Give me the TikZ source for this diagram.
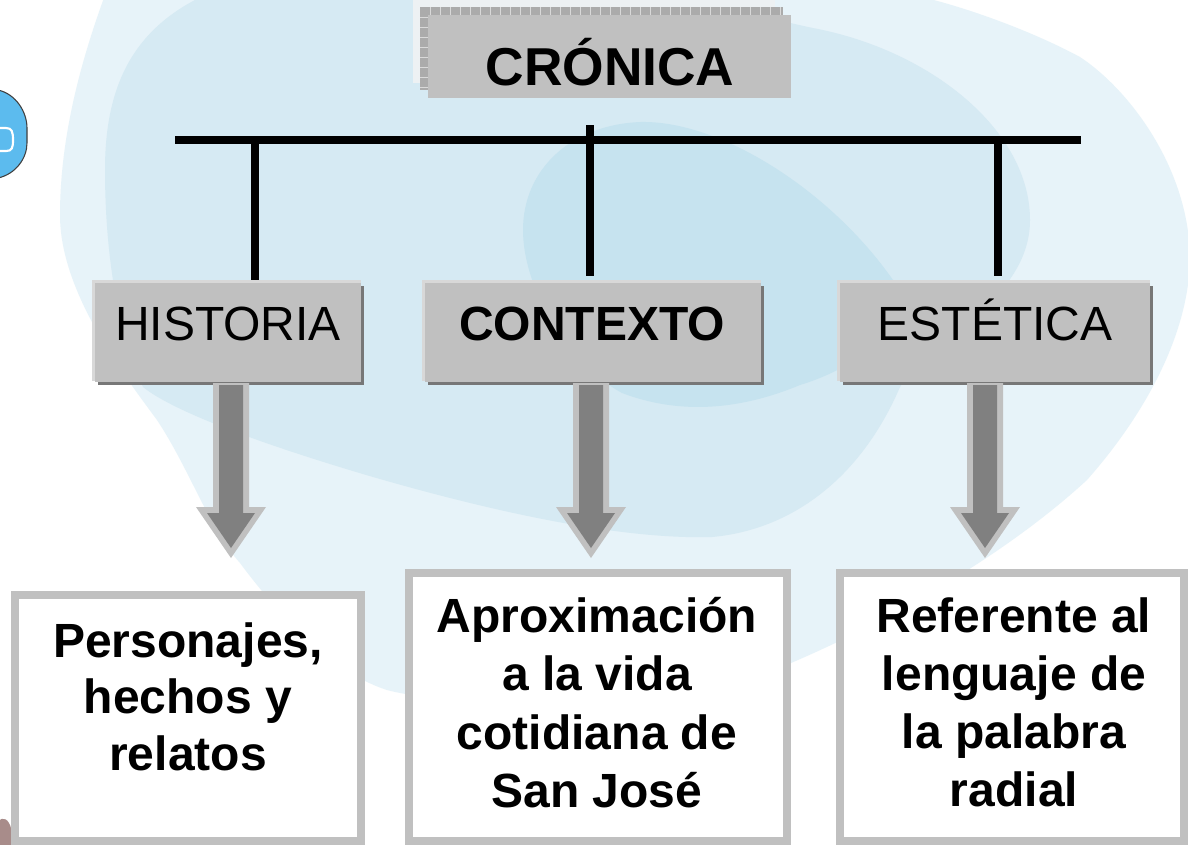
\documentclass[tikz,border=0pt]{standalone}
\usepackage{fontspec}
\setmainfont{Liberation Sans}
\definecolor{blobA}{HTML}{E7F3F9}
\definecolor{blobB}{HTML}{D6EAF3}
\definecolor{blobC}{HTML}{C6E3EF}
\definecolor{boxgrey}{HTML}{C0C0C0}
\definecolor{boxlight}{HTML}{D8D8D8}
\definecolor{boxdark}{HTML}{777777}
\definecolor{arrowgrey}{HTML}{808080}
\definecolor{haze}{HTML}{EDF1F3}
\definecolor{hatch}{HTML}{ABABAB}
\definecolor{buttonblue}{HTML}{5CBBEE}
\definecolor{smudge}{HTML}{A88C8A}
\tikzset{
  x=0.75pt,y=-0.75pt,
  resultframe/.style={draw=boxgrey,line width=6pt,fill=white},
  bar/.style={line width=6pt,draw=black},
  headtext/.style={font=\fontsize{36}{40}\selectfont,inner sep=0pt,anchor=base},
  boldhead/.style={headtext,font=\fontsize{36}{40}\selectfont\bfseries},
  resulttext/.style={font=\fontsize{36}{43.7}\selectfont\bfseries,align=center,inner sep=0pt,anchor=north},
}
\newcommand{\headpanel}[4]{% x0, y0, x1, y1
  \fill[boxlight] (#1,#2) rectangle (#3-3,#4-4);
  \fill[boxdark] (#1+6,#2+6) rectangle (#3,#4);
  \fill[boxgrey] (#1+3,#2+3) rectangle (#3-3,#4-3);
}
\newcommand{\fatarrow}[1]{% centre x
  \fill[boxgrey] (#1-18,383) -- (#1+18,383) -- (#1+18,507) -- (#1+35,507) -- (#1,558) -- (#1-35,507) -- (#1-18,507) -- cycle;
  \fill[arrowgrey] (#1-12,385) -- (#1+12,385) -- (#1+12,513) -- (#1+24,513) -- (#1,548) -- (#1-24,513) -- (#1-12,513) -- cycle;
}
\begin{document}
\begin{tikzpicture}
\useasboundingbox (0,0) rectangle (1188,844);
\fill[white] (0,0) rectangle (1188,844);
\begin{scope}
\clip (0,0) rectangle (1188,844);
% background blobs
\fill[blobA] (105,-5) .. controls (85,50) and (60,130) .. (60,215)
  .. controls (60,290) and (120,370) .. (157,420)
  .. controls (190,470) and (210,530) .. (240,563)
  .. controls (290,630) and (340,675) .. (387,690)
  .. controls (470,712) and (680,700) .. (791,663)
  .. controls (880,625) and (1000,560) .. (1087,480)
  .. controls (1140,420) and (1188,340) .. (1190,260)
  .. controls (1190,170) and (1130,90) .. (1080,57)
  .. controls (1030,30) and (960,5) .. (913,-5) -- cycle;
\fill[blobB] (205,-5) .. controls (130,30) and (105,90) .. (105,170)
  .. controls (105,260) and (120,340) .. (143,387)
  .. controls (165,405) and (230,435) .. (373,477)
  .. controls (470,505) and (610,540) .. (712,537)
  .. controls (790,530) and (860,480) .. (900,387)
  .. controls (930,340) and (1030,300) .. (1030,220)
  .. controls (1030,130) and (930,50) .. (813,28)
  .. controls (750,15) and (700,-5) .. (600,-5) -- cycle;
\fill[blobC] (523,230) .. controls (523,170) and (570,125) .. (640,122)
  .. controls (720,120) and (830,190) .. (893,280)
  .. controls (915,330) and (850,370) .. (800,385)
  .. controls (740,410) and (680,415) .. (622,393)
  .. controls (570,365) and (523,290) .. (523,230) -- cycle;
% partial button at left edge
\fill[buttonblue,draw=black!75,line width=0.8pt] (-2,90) .. controls (16,94) and (27,112) .. (27,128) -- (27,143) .. controls (27,158) and (16,174) .. (-2,178) -- cycle;
\draw[white,line width=1.6pt] (-2,128) -- (6,128) .. controls (12,128) and (13,132) .. (13,140) .. controls (13,148) and (12,151) .. (6,151) -- (-2,151);
% smudge at lower left
\fill[smudge] (-2,846) -- (-2,822) .. controls (3,815) and (9,820) .. (11,828) -- (11,846) -- cycle;
\end{scope}
% title
\fill[haze] (413,0) rectangle (775,83);
\fill[hatch] (420,7) rectangle (783,90);
\foreach \tx in {430,440,...,780} {\draw[white!85!black,line width=0.4pt] (\tx,7) -- (\tx,15);}
\foreach \ty in {17,27,...,87} {\draw[white!85!black,line width=0.4pt] (420,\ty) -- (428,\ty);}
\fill[boxgrey] (428,15) rectangle (791,98);
\node[boldhead,font=\fontsize{40}{44}\selectfont\bfseries] (title) at (610,85) {CRÓNICA};
% connectors
\coordinate (barL) at (175,140);
\coordinate (barR) at (1081,140);
\coordinate (barM) at (590,125);
\coordinate (barMe) at (590,276);
\coordinate (bar1) at (255,140);
\coordinate (bar1e) at (255,283);
\coordinate (bar3) at (998,140);
\coordinate (bar3e) at (998,276);
\draw[bar] (barL) -- (barR);
\draw[bar] (bar1) -- (bar1e);
\draw[bar] (barM) -- (barMe);
\draw[bar] (bar3) -- (bar3e);
% heads
\headpanel{92}{280}{364}{385}
\headpanel{422}{280}{764}{385}
\headpanel{837}{280}{1153}{385}
\node[headtext] (histtext) at (228,340) {HISTORIA};
\node[boldhead] (conttext) at (592,340) {CONTEXTO};
\node[headtext] (estetext) at (995,340) {ESTÉTICA};
% arrows
\fatarrow{231}
\fatarrow{591}
\fatarrow{985}
% result boxes
\draw[resultframe] (15,595) rectangle (360.5,841);
\draw[resultframe] (409,573) rectangle (787,841);
\draw[resultframe] (840,573) rectangle (1184,841);
\node[resulttext,font=\fontsize{36}{42.5}\selectfont\bfseries] (r1text) at (188,622) {Personajes,\\hechos y\\relatos};
\node[resulttext] (r2text) at (597,597) {Aproximación\\a la vida\\cotidiana de\\San José};
\node[resulttext] (r3text) at (1014,597) {Referente al\\lenguaje de\\la palabra\\radial};
\end{tikzpicture}
\end{document}
